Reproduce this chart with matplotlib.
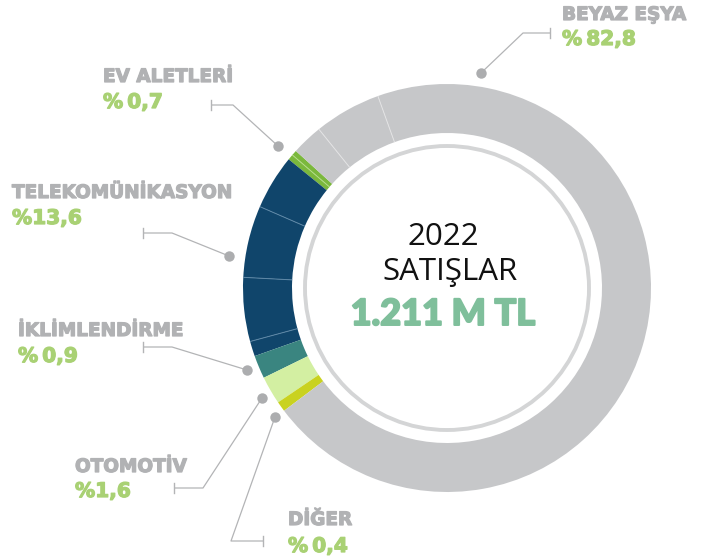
import numpy as np
import matplotlib
matplotlib.use("Agg")
import matplotlib.pyplot as plt
import matplotlib.patheffects as pe
from matplotlib.patches import Circle

W, H = 709, 560

# ---- data ----
categories = ['EV ALETLERİ', 'TELEKOMÜNİKASYON', 'İKLİMLENDİRME', 'OTOMOTİV', 'DİĞER', 'BEYAZ EŞYA']
pct_labels = ['%\u20090,7', '%13,6', '%\u20090,9', '%1,6', '%\u20090,4', '%\u200982,8']
# arc widths (degrees) of each category as drawn in the picture, with sub pieces
arc_parts = [
    [1.5, 1.6],                  # EV ALETLERİ
    [15.6, 20.5, 18.2, 4.3],     # TELEKOMÜNİKASYON
    [6.6],                       # İKLİMLENDİRME
    [8.0],                       # OTOMOTİV
    [2.9],                       # DİĞER
    [252.8, 19.1, 8.9],          # BEYAZ EŞYA
]
colors = ['#7bb83c', '#10456b', '#3a8580', '#d3efa2', '#c9d220', '#c6c7c9']
divider_colors = ['#b5dc8a', '#5d87a6', None, None, None, '#e3e3e4']
start_angle = 137.8
center_title = ['2022', 'SATIŞLAR']
center_value = '1.211 M TL'

# ---- layout ----
cx, cy = 447, 288
R_out, R_in = 204, 155
R_thin = 142

label_pos = [(103, 82), (12, 198), (18, 336), (75, 472), (288, 525), (562, 20)]
value_pos = [(103, 108), (12, 224), (18, 362), (75, 497), (288, 552), (562, 45)]
# leader: tick x, tick y, elbow x, dot x, dot y
leaders = [
    (211, 105, 233, 278, 146),
    (143, 233, 172, 229, 256),
    (143, 347, 172, 247, 370),
    (174, 488, 203, 262, 398),
    (263, 541, 231, 275, 417),
    (550, 33, 523, 481, 73),
]

fig = plt.figure(figsize=(W / 100, H / 100), dpi=100)
ax = fig.add_axes([0, 0, 1, 1])

sizes = [p for parts in arc_parts for p in parts]
piece_colors = [colors[i] for i, parts in enumerate(arc_parts) for _ in parts]
ax.pie(sizes, colors=piece_colors, startangle=-start_angle, counterclock=False,
       radius=R_out, center=(cx, cy), frame=True,
       wedgeprops=dict(width=R_out - R_in, linewidth=0, edgecolor='none', antialiased=True))

ax.set_xlim(0, W)
ax.set_ylim(H, 0)
ax.set_aspect('equal')
ax.axis('off')

# dividers between sub pieces
ang = start_angle
for i, parts in enumerate(arc_parts):
    for j, p in enumerate(parts):
        if j > 0 and divider_colors[i]:
            a = np.deg2rad(ang)
            xs = [cx + R_in * np.cos(a), cx + R_out * np.cos(a)]
            ys = [cy - R_in * np.sin(a), cy - R_out * np.sin(a)]
            ax.plot(xs, ys, color=divider_colors[i], lw=0.7, solid_capstyle='butt')
        ang += p

# thin inner ring
ax.add_patch(Circle((cx, cy), R_thin, fill=False, ec='#d4d5d6', lw=2.8))

# leaders
lc = '#b3b4b6'
for (tx, ty, ex, dx, dy) in leaders:
    ax.plot([tx, ex, dx], [ty, ty, dy], color=lc, lw=0.9, solid_capstyle='butt')
    ax.plot([tx, tx], [ty - 5, ty + 5], color=lc, lw=1.0)
    ax.plot([dx], [dy], 'o', ms=7.5, color='#acadaf', mec='none')

def heavy(c, w=0.9):
    return [pe.withStroke(linewidth=w, foreground=c)]

lab_font = ['DejaVu Sans']
gray_t, green_t = '#b1b2b4', '#a9d174'
for cat, pct, (lx, ly), (vx, vy) in zip(categories, pct_labels, label_pos, value_pos):
    ax.text(lx, ly, cat, fontsize=13.3, fontweight='bold', family=lab_font,
            color=gray_t, ha='left', va='baseline', path_effects=heavy(gray_t))
    ax.text(vx, vy, pct, fontsize=14.5, fontweight='bold', family=lab_font,
            color=green_t, ha='left', va='baseline', path_effects=heavy(green_t))

ax.text(443, 245, center_title[0], fontsize=22.5, family=['Open Sans', 'DejaVu Sans'],
        color='#111111', ha='center', va='baseline')
ax.text(450, 280, center_title[1], fontsize=22.5, family=['Open Sans', 'DejaVu Sans'],
        color='#111111', ha='center', va='baseline')
ax.text(443, 325, center_value, fontsize=26, fontweight='black', family=['Lato', 'DejaVu Sans'],
        color='#7fbf9b', ha='center', va='baseline', path_effects=heavy('#7fbf9b', 1.4))

fig.savefig('out.png', dpi=100, facecolor='white')
